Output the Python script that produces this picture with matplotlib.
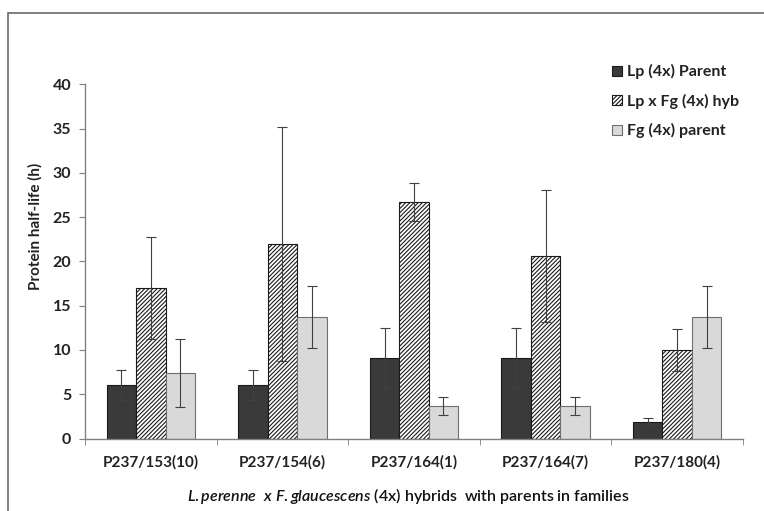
import numpy as np
import matplotlib.pyplot as plt
import matplotlib.patches as patches

plt.rcParams['font.family'] = ['Lato', 'DejaVu Sans']
plt.rcParams['mathtext.fontset'] = 'custom'
plt.rcParams['mathtext.rm'] = 'Lato:semibold'
plt.rcParams['mathtext.it'] = 'Lato:italic:semibold'
plt.rcParams['hatch.linewidth'] = 0.8

# families and protein half-life (h) with error bars
families = ['P237/153(10)', 'P237/154(6)', 'P237/164(1)', 'P237/164(7)', 'P237/180(4)']
series_names = ['Lp (4x) Parent', 'Lp x Fg (4x) hyb', 'Fg (4x) parent']

lp_parent = [6.0, 6.0, 9.05, 9.05, 1.9]
lp_parent_err = [1.7, 1.7, 3.4, 3.4, 0.45]
hybrid = [17.0, 22.0, 26.7, 20.6, 10.0]
hybrid_err = [5.8, 13.2, 2.1, 7.5, 2.4]
fg_parent = [7.4, 13.7, 3.7, 3.7, 13.7]
fg_parent_err = [3.8, 3.5, 1.0, 1.0, 3.5]


fig = plt.figure(figsize=(7.64, 5.11), dpi=100)
ax = fig.add_axes([85/764, 72.5/511, 658/764, 354.2/511])

x = np.arange(len(families))
w = 0.224
err_kw = dict(ecolor='#404040', elinewidth=0.8, capsize=3.5, capthick=0.8)

b1 = ax.bar(x - w, lp_parent, w, yerr=lp_parent_err, color='#3a3a3a',
            edgecolor='#1a1a1a', linewidth=0.8, error_kw=err_kw, label=series_names[0])
b2 = ax.bar(x, hybrid, w, yerr=hybrid_err, color='white', hatch='////////',
            edgecolor='#1a1a1a', linewidth=0.8, error_kw=err_kw, label=series_names[1])
b3 = ax.bar(x + w, fg_parent, w, yerr=fg_parent_err, color='#d9d9d9',
            edgecolor='#6e6e6e', linewidth=0.8, error_kw=err_kw, label=series_names[2])

ax.set_xlim(-0.5, len(families) - 0.5)
ax.set_ylim(0, 40)
ax.set_yticks(np.arange(0, 41, 5))
ax.set_xticks(x)
ax.set_xticklabels(families, fontsize=11, fontweight='bold', color='#222222')
ax.set_xticks(np.arange(-0.5, len(families), 1.0), minor=True)
ax.tick_params(axis='x', which='major', length=0, pad=12)
ax.tick_params(axis='x', which='minor', length=4, color='#808080', direction='out')
ax.tick_params(axis='y', length=4, color='#808080', labelsize=11.5, pad=6)
for lab in ax.get_yticklabels():
    lab.set_fontweight('bold')
    lab.set_color('#222222')

for side in ['top', 'right']:
    ax.spines[side].set_visible(False)
for side in ['left', 'bottom']:
    ax.spines[side].set_color('#808080')
    ax.spines[side].set_linewidth(1.0)

fig.text(35/764, 1 - 226/511, 'Protein half-life (h)', rotation=90, fontsize=11,
         fontweight='bold', ha='center', va='center', color='#222222')

fig.text(408/764, 1 - 496/511,
         r'$\mathit{L.perenne}$  $\mathit{x\ F.glaucescens}$ (4x) hybrids  with parents in families',
         fontsize=11.5, fontweight='semibold', ha='center', va='center', color='#111111')

leg = ax.legend(handles=[b1, b2, b3], loc='upper left',
                bbox_to_anchor=(606/764, 1 - 58/511), bbox_transform=fig.transFigure,
                frameon=False, fontsize=11.5, handlelength=0.6, handleheight=0.6,
                handletextpad=0.3, labelspacing=0.9, borderaxespad=0)
for t in leg.get_texts():
    t.set_fontweight('bold')
    t.set_color('#222222')

# chart frame
fig.patches.append(patches.Rectangle((8/764, -0.1), 1.2, 1 - 13/511 + 0.1,
                                     transform=fig.transFigure, fill=False,
                                     edgecolor='#6a6a6a', linewidth=1.2))

fig.savefig('out.png', dpi=100)
